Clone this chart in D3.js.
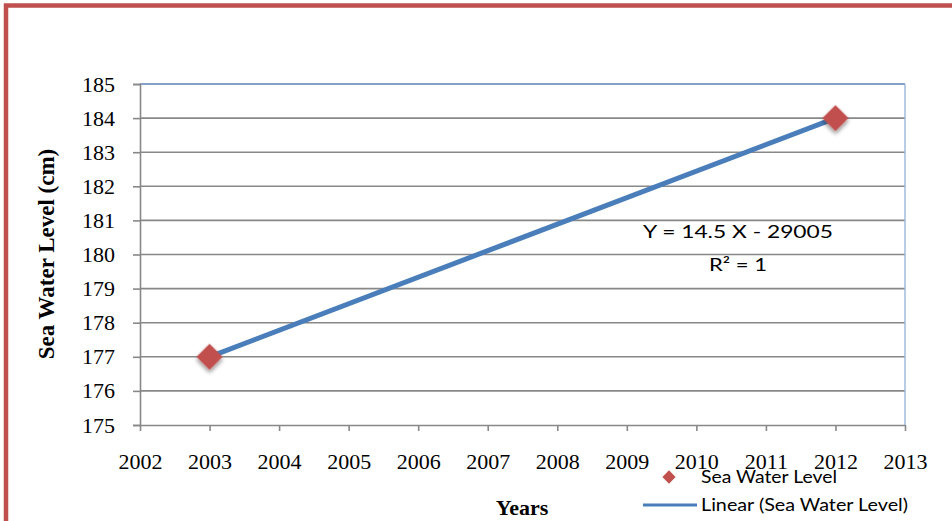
<!DOCTYPE html>
<html>
<head>
<meta charset="utf-8">
<script src="https://cdn.jsdelivr.net/npm/d3@7"></script>
<style>
  html, body { margin: 0; padding: 0; background: #fff; }
  svg { display: block; }
</style>
</head>
<body>
<svg id="chart" width="952" height="521"></svg>
<script>
// Observed sea water level readings
const years = [2003, 2012];
const levels = [177, 184];

// Axis tick values
const xTicks = [2002, 2003, 2004, 2005, 2006, 2007, 2008, 2009, 2010, 2011, 2012, 2013];
const yTicks = [175, 176, 177, 178, 179, 180, 181, 182, 183, 184, 185];

// Trendline annotation and legend entries
const equationLines = ["Y = 14.5 X - 29005", "R² = 1"];
const legendLabels = ["Sea Water Level", "Linear (Sea Water Level)"];

const svg = d3.select("#chart");
const W = 952, H = 521;
const plot = { left: 140, top: 84, right: 905, bottom: 425 };

const x = d3.scaleLinear().domain([2002, 2013]).range([plot.left, plot.right]);
const y = d3.scaleLinear().domain([175, 185]).range([plot.bottom, plot.top]);

const serif = "'Liberation Serif', 'Times New Roman', serif";
const sans = "Lato, 'Noto Sans', sans-serif";
const grey = "#888888";
const red = "#c0504d";
const lineBlue = "#4a7ebb";

// Drop shadow for the markers
const defs = svg.append("defs");
const shadow = defs.append("filter").attr("id", "shadow")
  .attr("x", "-50%").attr("y", "-50%").attr("width", "200%").attr("height", "200%");
shadow.append("feGaussianBlur").attr("in", "SourceAlpha").attr("stdDeviation", 2).attr("result", "b");
shadow.append("feOffset").attr("in", "b").attr("dx", 2).attr("dy", 2).attr("result", "o");
shadow.append("feComponentTransfer").attr("in", "o").attr("result", "s")
  .append("feFuncA").attr("type", "linear").attr("slope", 0.45);
const merge = shadow.append("feMerge");
merge.append("feMergeNode").attr("in", "s");
merge.append("feMergeNode").attr("in", "SourceGraphic");

// Outer frame
svg.append("rect")
  .attr("x", 6).attr("y", 5.5)
  .attr("width", W + 20).attr("height", H + 20)
  .attr("fill", "none").attr("stroke", red).attr("stroke-width", 4.5);

// Horizontal gridlines
svg.append("g").selectAll("line")
  .data(yTicks.filter(d => d !== 175 && d !== 185))
  .join("line")
  .attr("x1", plot.left).attr("x2", plot.right)
  .attr("y1", d => y(d)).attr("y2", d => y(d))
  .attr("stroke", grey).attr("stroke-width", 1.6);

// Plot area top and right edges
svg.append("line")
  .attr("x1", plot.left).attr("x2", plot.right)
  .attr("y1", y(185)).attr("y2", y(185))
  .attr("stroke", "#5b82b8").attr("stroke-width", 1.6);
svg.append("line")
  .attr("x1", plot.right).attr("x2", plot.right)
  .attr("y1", plot.top).attr("y2", plot.bottom)
  .attr("stroke", "#9bb7dc").attr("stroke-width", 1.4);

// Y axis
const yAxis = svg.append("g")
  .attr("transform", `translate(${plot.left},0)`)
  .call(d3.axisLeft(y).tickValues(yTicks).tickSize(7).tickPadding(18).tickFormat(d3.format("d")));
yAxis.select(".domain").attr("stroke", grey).attr("stroke-width", 1.6);
yAxis.selectAll(".tick line").attr("stroke", grey).attr("stroke-width", 1.6);
yAxis.selectAll(".tick text")
  .attr("font-family", serif).attr("font-size", 22).attr("fill", "#000");

// X axis
const xAxis = svg.append("g")
  .attr("transform", `translate(0,${plot.bottom})`)
  .call(d3.axisBottom(x).tickValues(xTicks).tickSize(6).tickSizeOuter(0).tickPadding(22).tickFormat(d3.format("d")));
xAxis.select(".domain").attr("stroke", grey).attr("stroke-width", 1.6);
xAxis.selectAll(".tick line").attr("stroke", grey).attr("stroke-width", 1.6);
xAxis.selectAll(".tick text")
  .attr("font-family", serif).attr("font-size", 22).attr("fill", "#000");

// Least-squares trendline through the observations
const mx = d3.mean(years), my = d3.mean(levels);
const slope = d3.sum(years, (v, i) => (v - mx) * (levels[i] - my)) / d3.sum(years, v => (v - mx) ** 2);
const intercept = my - slope * mx;
const fit = years.map(v => [v, slope * v + intercept]);

svg.append("path")
  .datum(fit)
  .attr("d", d3.line().x(d => x(d[0])).y(d => y(d[1])))
  .attr("fill", "none").attr("stroke", lineBlue).attr("stroke-width", 5)
  .attr("stroke-linecap", "round");

// Markers
const diamond = d3.symbol().type(d3.symbolSquare).size(340);
svg.append("g").selectAll("path")
  .data(years.map((v, i) => [v, levels[i]]))
  .join("path")
  .attr("d", diamond)
  .attr("transform", d => `translate(${x(d[0])},${y(d[1])}) rotate(45)`)
  .attr("fill", red)
  .attr("filter", "url(#shadow)");

// Trendline equation
const eqWidths = [190, 58];
svg.append("g").selectAll("text")
  .data(equationLines)
  .join("text")
  .attr("x", 738)
  .attr("y", (d, i) => 238 + i * 33)
  .attr("text-anchor", "middle")
  .attr("font-family", sans).attr("font-size", 18).attr("fill", "#000")
  .attr("textLength", (d, i) => eqWidths[i])
  .attr("lengthAdjust", "spacingAndGlyphs")
  .text(d => d);

// Axis titles
svg.append("text")
  .attr("transform", "translate(54,254) rotate(-90)")
  .attr("text-anchor", "middle")
  .attr("font-family", serif).attr("font-weight", "bold").attr("font-size", 23)
  .text("Sea Water Level (cm)");

svg.append("text")
  .attr("x", 522).attr("y", 515)
  .attr("text-anchor", "middle")
  .attr("font-family", serif).attr("font-weight", "bold").attr("font-size", 22)
  .text("Years");

// Legend
const legend = svg.append("g");
legend.append("path")
  .attr("d", d3.symbol().type(d3.symbolSquare).size(88))
  .attr("transform", "translate(669,477) rotate(45)")
  .attr("fill", red);
legend.append("text")
  .attr("x", 701).attr("y", 483)
  .attr("font-family", sans).attr("font-size", 16.5).attr("fill", "#000")
  .attr("textLength", 136).attr("lengthAdjust", "spacingAndGlyphs")
  .text(legendLabels[0]);
legend.append("line")
  .attr("x1", 643).attr("x2", 697).attr("y1", 505).attr("y2", 505)
  .attr("stroke", lineBlue).attr("stroke-width", 3);
legend.append("text")
  .attr("x", 701).attr("y", 511)
  .attr("font-family", sans).attr("font-size", 16.5).attr("fill", "#000")
  .attr("textLength", 207).attr("lengthAdjust", "spacingAndGlyphs")
  .text(legendLabels[1]);
</script>
</body>
</html>
